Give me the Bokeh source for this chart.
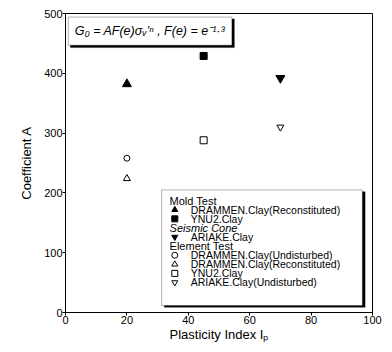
from bokeh.plotting import figure
from bokeh.models import Label, BoxAnnotation, Range1d, FixedTicker
from bokeh.embed import file_html
from bokeh.resources import INLINE

# ---------------- data ----------------
mold_drammen_ip = [20]
mold_drammen_A = [382]
mold_ynu2_ip = [45]
mold_ynu2_A = [429]
cone_ariake_ip = [70]
cone_ariake_A = [392]
elem_drammen_und_ip = [20]
elem_drammen_und_A = [258]
elem_drammen_rec_ip = [20]
elem_drammen_rec_A = [224]
elem_ynu2_ip = [45]
elem_ynu2_A = [288]
elem_ariake_ip = [70]
elem_ariake_A = [310]

x_ticks = [0, 20, 40, 60, 80, 100]
y_ticks = [0, 100, 200, 300, 400, 500]

legend_rows = [
    ("header", "Mold Test", None, False),
    ("item", "DRAMMEN.Clay(Reconstituted)", "triangle", True),
    ("item", "YNU2.Clay", "square", True),
    ("header", "Seismic Cone", None, False),
    ("item", "ARIAKE.Clay", "inverted_triangle", True),
    ("header", "Element Test", None, False),
    ("item", "DRAMMEN.Clay(Undisturbed)", "circle", False),
    ("item", "DRAMMEN.Clay(Reconstituted)", "triangle", False),
    ("item", "YNU2.Clay", "square", False),
    ("item", "ARIAKE.Clay(Undisturbed)", "inverted_triangle", False),
]

FONT = "Liberation Sans"

p = figure(width=384, height=344, output_backend="svg", toolbar_location=None,
           x_range=Range1d(0, 100), y_range=Range1d(0, 500),
           min_border_left=65, min_border_right=12, min_border_top=13, min_border_bottom=29)
p.background_fill_color = "white"
p.border_fill_color = "white"
p.outline_line_color = "black"
p.outline_line_width = 1
p.xgrid.visible = False
p.ygrid.visible = False

for ax, ticks in ((p.xaxis[0], x_ticks), (p.yaxis[0], y_ticks)):
    ax.ticker = FixedTicker(ticks=ticks, minor_ticks=[])
    ax.major_tick_out = 3
    ax.major_tick_in = 0
    ax.minor_tick_out = 0
    ax.minor_tick_in = 0
    ax.major_label_text_font = FONT
    ax.major_label_text_font_size = "11px"
    ax.major_label_text_color = "black"
    ax.axis_line_color = "black"
    ax.major_tick_line_color = "black"
    ax.axis_label_text_font = FONT
    ax.axis_label_text_font_size = "13px"
    ax.axis_label_text_font_style = "normal"
    ax.axis_label_text_color = "black"
    ax.major_label_standoff = 0

p.xaxis.axis_label = "Plasticity Index Iₚ"
p.yaxis.axis_label = "Coefficient A"
p.xaxis.axis_label_standoff = 0
p.yaxis.axis_label_standoff = 7

# ---------------- data marks ----------------
p.scatter(mold_drammen_ip, mold_drammen_A, marker="triangle", size=9,
          fill_color="black", line_color="black")
p.scatter(mold_ynu2_ip, mold_ynu2_A, marker="square", size=7,
          fill_color="black", line_color="black")
p.scatter(cone_ariake_ip, cone_ariake_A, marker="inverted_triangle", size=9,
          fill_color="black", line_color="black")
p.scatter(elem_drammen_und_ip, elem_drammen_und_A, marker="circle", size=6,
          fill_color="white", line_color="black")
p.scatter(elem_drammen_rec_ip, elem_drammen_rec_A, marker="triangle", size=7,
          fill_color="white", line_color="black")
p.scatter(elem_ynu2_ip, elem_ynu2_A, marker="square", size=7,
          fill_color="white", line_color="black")
p.scatter(elem_ariake_ip, elem_ariake_A, marker="inverted_triangle", size=7,
          fill_color="white", line_color="black")

# ---------------- equation box ----------------
p.add_layout(BoxAnnotation(left=1.6, right=55.0, top=491, bottom=443, level="underlay",
                           fill_color="black", fill_alpha=1, line_color="black"))
p.add_layout(BoxAnnotation(left=0.9, right=54.2, top=494, bottom=447, level="underlay",
                           fill_color="white", fill_alpha=1, line_color="black", line_width=1))
p.add_layout(Label(x=3.0, y=471, text="G₀ = AF(e)σᵥ'ⁿ , F(e) = e⁻¹·³",
                   text_font=FONT, text_font_size="12.5px", text_font_style="italic",
                   text_baseline="middle", text_color="black"))

# ---------------- legend box ----------------
p.add_layout(BoxAnnotation(left=32.2, right=97.6, top=202, bottom=8.6, level="underlay",
                           fill_color="black", fill_alpha=1, line_color="black"))
p.add_layout(BoxAnnotation(left=31.3, right=96.7, top=205, bottom=11.6, level="underlay",
                           fill_color="white", fill_alpha=1, line_color="black", line_width=1))

y0, dy = 187.0, 15.2
for i, (kind, text, marker, filled) in enumerate(legend_rows):
    yy = y0 - i * dy
    if kind == "header":
        p.add_layout(Label(x=33.9, y=yy, text=text, text_font=FONT, text_font_size="11px",
                           text_font_style="italic" if text == "Seismic Cone" else "normal",
                           text_baseline="middle", text_color="black"))
    else:
        p.scatter([35.6], [yy], marker=marker, size=6,
                  fill_color="black" if filled else "white", line_color="black")
        p.add_layout(Label(x=40.8, y=yy, text=text, text_font=FONT, text_font_size="10.5px",
                           text_baseline="middle", text_color="black"))

open("out.html", "w").write(file_html(p, INLINE))
